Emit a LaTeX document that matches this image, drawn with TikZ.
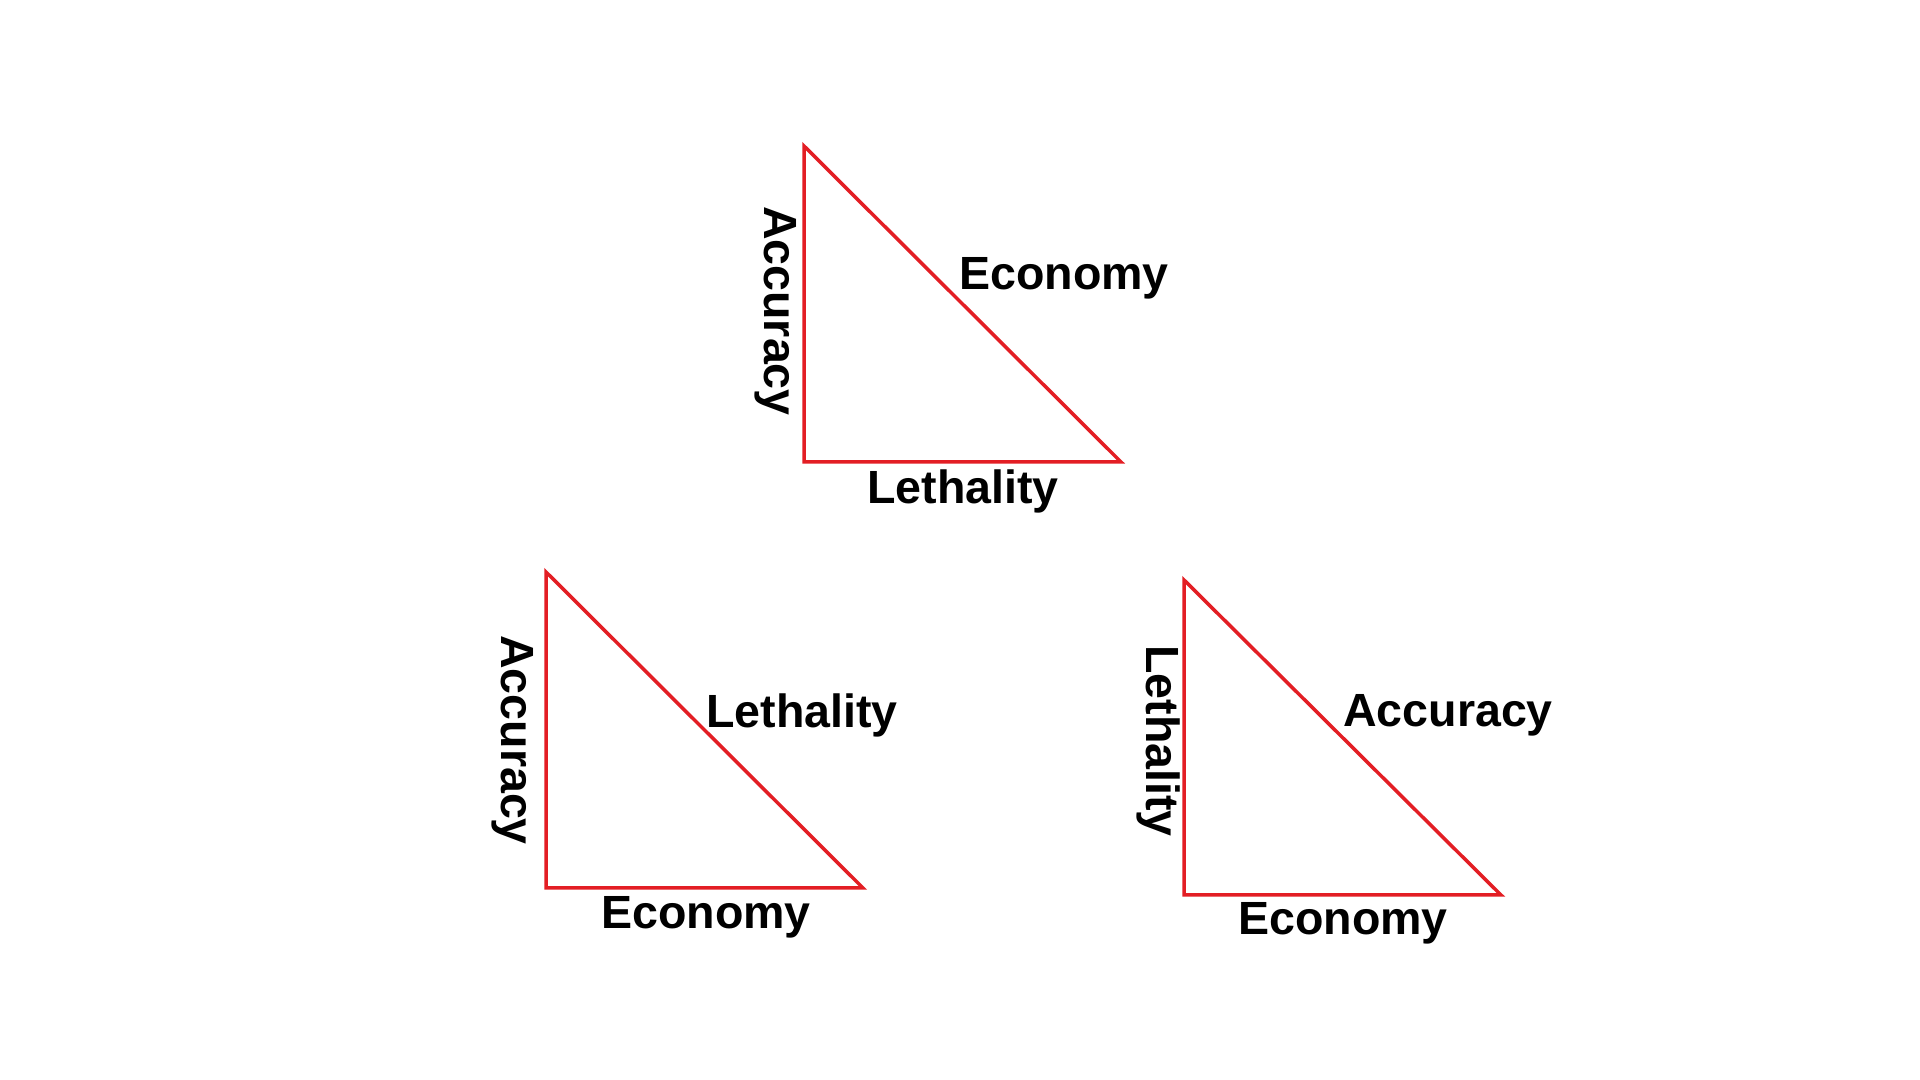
\documentclass[tikz,border=0pt]{standalone}
\usepackage{fontspec}
\setmainfont{Liberation Sans}
\tikzset{
  tri/.style={draw={rgb,255:red,227;green,30;blue,36}, line width=0.035cm, line join=miter},
  lbl/.style={inner sep=0pt, font=\fontsize{13.24pt}{15pt}\selectfont\bfseries},
}
\begin{document}
\begin{tikzpicture}[x=0.01cm,y=-0.01cm]
\useasboundingbox[fill=white] (0,0) rectangle (1920,1080);
% top triangle
\coordinate (tA) at (804,146);
\coordinate (tB) at (804,462);
\coordinate (tC) at (1121,462);
\draw[tri] (tA) -- (tB) -- (tC) -- cycle;
\node[lbl, rotate=-90] (tacc) at (776,311) {Accuracy};
\node[lbl] (teco) at (1064,278) {Economy};
\node[lbl] (tleth) at (963,491) {Lethality};
% bottom-left triangle
\coordinate (lA) at (546,572);
\coordinate (lB) at (546,888);
\coordinate (lC) at (863,888);
\draw[tri] (lA) -- (lB) -- (lC) -- cycle;
\node[lbl, rotate=-90] (lacc) at (513,740) {Accuracy};
\node[lbl] (lleth) at (802,715) {Lethality};
\node[lbl] (leco) at (706,917) {Economy};
% bottom-right triangle
\coordinate (rA) at (1184,580);
\coordinate (rB) at (1184,895);
\coordinate (rC) at (1501,895);
\draw[tri] (rA) -- (rB) -- (rC) -- cycle;
\node[lbl, rotate=-90] (rleth) at (1159,741) {Lethality};
\node[lbl] (racc) at (1448,715) {Accuracy};
\node[lbl] (reco) at (1343,923) {Economy};
\end{tikzpicture}
\end{document}
